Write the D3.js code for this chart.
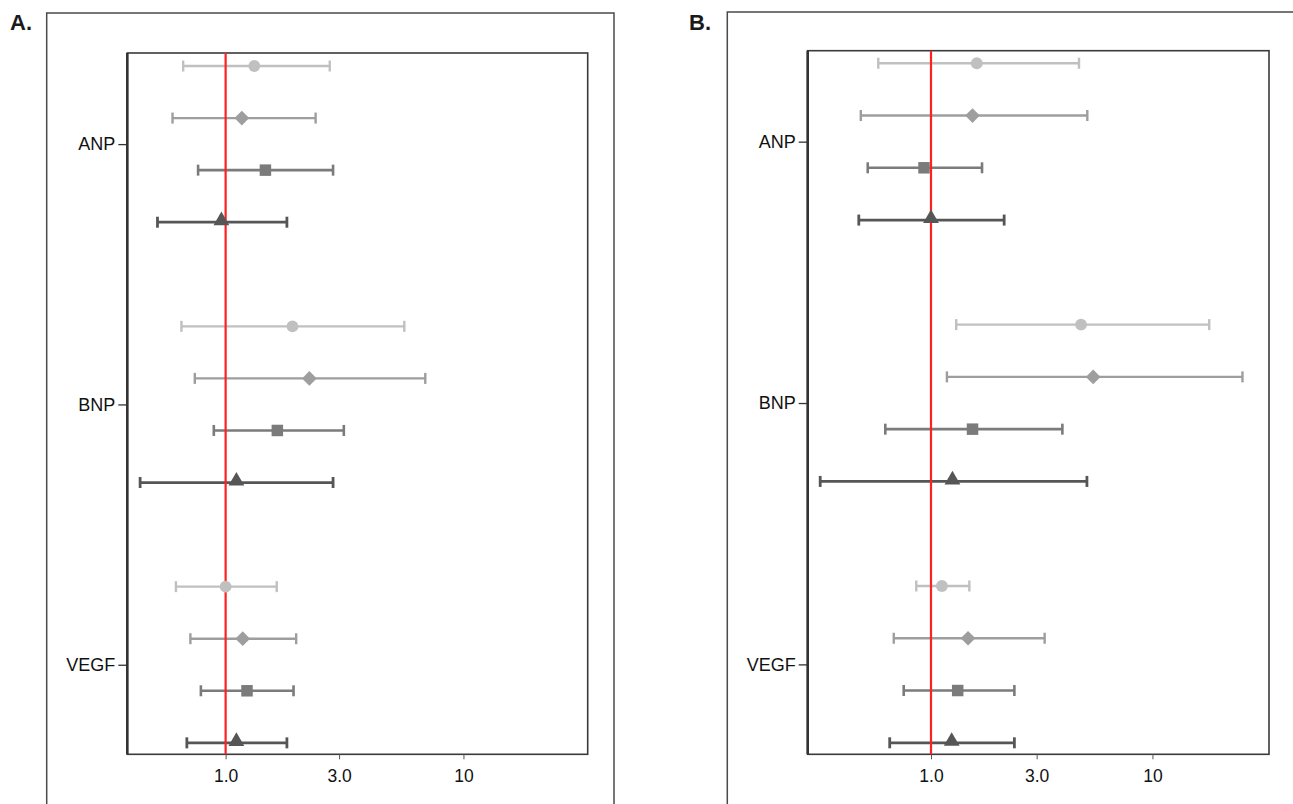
<!DOCTYPE html>
<html>
<head>
<meta charset="utf-8">
<script src="https://cdn.jsdelivr.net/npm/d3@7"></script>
<style>
  html, body { margin: 0; padding: 0; background: #fff; }
  svg { display: block; font-family: "Liberation Sans", Arial, Helvetica, sans-serif; }
</style>
</head>
<body>
<svg id="chart" width="1293" height="804"></svg>
<script>
// ---- Data ----
const groups = ["ANP", "BNP", "VEGF"];
const seriesNames = ["s1", "s2", "s3", "s4"];           // circle, diamond, square, triangle
const tickValues = [1, 3, 10];
const tickLabels = ["1.0", "3.0", "10"];

// Panel A (rows: groups, cols: series)
const aEst = [[1.32, 1.17, 1.47, 0.96], [1.91, 2.25, 1.65, 1.11], [1.00, 1.18, 1.23, 1.11]];
const aLo  = [[0.663, 0.598, 0.766, 0.517], [0.652, 0.742, 0.892, 0.437], [0.618, 0.711, 0.787, 0.687]];
const aHi  = [[2.74, 2.39, 2.83, 1.81], [5.64, 6.91, 3.14, 2.83], [1.64, 1.98, 1.93, 1.81]];

// Panel B
const bEst = [[1.61, 1.54, 0.93, 1.00], [4.76, 5.40, 1.54, 1.25], [1.12, 1.47, 1.32, 1.24]];
const bLo  = [[0.578, 0.482, 0.518, 0.472], [1.30, 1.18, 0.622, 0.316], [0.858, 0.679, 0.753, 0.651]];
const bHi  = [[4.66, 5.08, 1.70, 2.14], [18.05, 25.5, 3.92, 5.06], [1.49, 3.26, 2.38, 2.38]];

// ---- Styles ----
const seriesColor = ["#c0c0c0", "#9e9e9e", "#7b7b7b", "#565656"];
const seriesWidth = [2.4, 2.4, 2.6, 2.8];
const seriesSymbol = [d3.symbolCircle, d3.symbolDiamond2, d3.symbolSquare, d3.symbolTriangle];
const seriesSize = [110, 138, 132, 108];

const panels = [
  { label: "A.", lx: 10, ly: 30, est: aEst, lo: aLo, hi: aHi, domain: [0.386, 33.3],
    outer: { x0: 46.7, y0: 13, x1: 614, y1: 830 },
    plot: { x0: 127.3, y0: 53, x1: 587.7, y1: 754.3 }, ydom: [-0.25, 13.22] },
  { label: "B.", lx: 689, ly: 30, est: bEst, lo: bLo, hi: bHi, domain: [0.2775, 33.6],
    outer: { x0: 727.3, y0: 12, x1: 1320, y1: 830 },
    plot: { x0: 807.7, y0: 50.7, x1: 1269, y1: 754.3 }, ydom: [-0.24, 13.22] }
];

const svg = d3.select("#chart");

panels.forEach(p => {
  const g = svg.append("g");

  // outer frame
  g.append("rect")
    .attr("x", p.outer.x0).attr("y", p.outer.y0)
    .attr("width", p.outer.x1 - p.outer.x0).attr("height", p.outer.y1 - p.outer.y0)
    .attr("fill", "none").attr("stroke", "#4a4a4a").attr("stroke-width", 1.5);

  // panel letter
  g.append("text").attr("x", p.lx).attr("y", p.ly)
    .attr("font-size", 22).attr("font-weight", "bold").attr("fill", "#1a1a1a")
    .text(p.label);

  const x = d3.scaleLog().domain(p.domain).range([p.plot.x0, p.plot.x1]);
  const y = d3.scaleLinear().domain(p.ydom).range([p.plot.y0, p.plot.y1]);

  // plot frame
  g.append("rect")
    .attr("x", p.plot.x0).attr("y", p.plot.y0)
    .attr("width", p.plot.x1 - p.plot.x0).attr("height", p.plot.y1 - p.plot.y0)
    .attr("fill", "none").attr("stroke", "#3a3a3a").attr("stroke-width", 1.6);

  // rows
  const rows = [];
  groups.forEach((grp, gi) => {
    seriesNames.forEach((s, si) => {
      rows.push({ gi, si, idx: gi * 5 + si, est: p.est[gi][si], lo: p.lo[gi][si], hi: p.hi[gi][si] });
    });
  });

  const bars = g.append("g");
  rows.forEach(r => {
    const yy = y(r.idx);
    const c = seriesColor[r.si], w = seriesWidth[r.si];
    bars.append("line").attr("x1", x(r.lo)).attr("x2", x(r.hi)).attr("y1", yy).attr("y2", yy)
      .attr("stroke", c).attr("stroke-width", w);
    [r.lo, r.hi].forEach(v => {
      bars.append("line").attr("x1", x(v)).attr("x2", x(v)).attr("y1", yy - 5.5).attr("y2", yy + 5.5)
        .attr("stroke", c).attr("stroke-width", w);
    });
  });

  // reference line at 1
  g.append("line").attr("x1", x(1)).attr("x2", x(1))
    .attr("y1", p.plot.y0).attr("y2", p.plot.y1)
    .attr("stroke", "#ff2020").attr("stroke-width", 2.2);

  // markers
  rows.forEach(r => {
    g.append("path")
      .attr("d", d3.symbol().type(seriesSymbol[r.si]).size(seriesSize[r.si])())
      .attr("transform", `translate(${x(r.est)},${y(r.idx) + (r.si === 3 ? -1.5 : 0)})`)
      .attr("fill", seriesColor[r.si]);
  });

  // left axis (thick)
  g.append("line").attr("x1", p.plot.x0).attr("x2", p.plot.x0)
    .attr("y1", p.plot.y0).attr("y2", p.plot.y1)
    .attr("stroke", "#333").attr("stroke-width", 2.6);

  const yAxis = d3.axisLeft(y)
    .tickValues(groups.map((d, i) => i * 5 + 1.5))
    .tickFormat((d, i) => groups[i])
    .tickSize(9).tickPadding(3);
  const ya = g.append("g").attr("transform", `translate(${p.plot.x0},0)`).call(yAxis);
  ya.select(".domain").remove();
  ya.selectAll(".tick line").attr("stroke", "#333").attr("stroke-width", 1.3);
  ya.selectAll(".tick text").attr("font-size", 18).attr("fill", "#111")
    .attr("font-family", "'Liberation Sans', Arial, Helvetica, sans-serif");

  const xAxis = d3.axisBottom(x)
    .tickValues(tickValues)
    .tickFormat((d, i) => tickLabels[i])
    .tickSize(5).tickPadding(10);
  const xa = g.append("g").attr("transform", `translate(0,${p.plot.y1})`).call(xAxis);
  xa.select(".domain").remove();
  xa.selectAll(".tick line").attr("stroke", "#555").attr("stroke-width", 1);
  xa.selectAll(".tick text").attr("font-size", 17.5).attr("fill", "#111")
    .attr("font-family", "'Liberation Sans', Arial, Helvetica, sans-serif");
});
</script>
</body>
</html>
